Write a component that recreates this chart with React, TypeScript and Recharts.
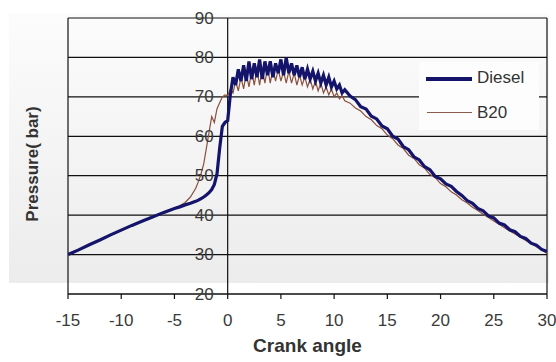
import React from 'react';
import {
  LineChart,
  Line,
  XAxis,
  YAxis,
  CartesianGrid,
  ReferenceLine,
  Legend,
} from 'recharts';

// crank angle (deg) and cylinder pressure (bar)
const angles = [
  -15, -14, -13, -12, -11, -10, -9, -8, -7, -6, -5,
  -4.5, -4, -3.5, -3,
  -2.75, -2.5, -2.25, -2, -1.75, -1.5, -1.25, -1, -0.75, -0.5, -0.25, 0,
  0.25, 0.5, 0.75, 1, 1.25, 1.5, 1.75, 2, 2.25, 2.5, 2.75, 3,
  3.25, 3.5, 3.75, 4, 4.25, 4.5, 4.75, 5, 5.25, 5.5, 5.75, 6,
  6.25, 6.5, 6.75, 7, 7.25, 7.5, 7.75, 8, 8.25, 8.5, 8.75, 9,
  9.25, 9.5, 9.75, 10, 10.25, 10.5, 10.75, 11,
  11.5, 12, 12.5, 13, 13.5, 14, 14.5, 15, 15.5, 16, 16.5, 17,
  17.5, 18, 18.5, 19, 19.5, 20, 20.5, 21, 21.5, 22, 22.5, 23,
  23.5, 24, 24.5, 25, 25.5, 26, 26.5, 27, 27.5, 28, 28.5, 29, 29.5, 30,
];

const diesel = [
  30.0, 31.2, 32.5, 33.7, 35.0, 36.2, 37.4, 38.5, 39.6, 40.7, 41.7,
  42.1, 42.6, 43.0, 43.5,
  43.8, 44.2, 44.6, 45.1, 45.7, 46.5, 47.8, 50.5, 57.0, 62.5, 63.5, 64.0,
  70.5, 75.0, 73.0, 77.0, 74.0, 78.0, 74.0, 79.0, 74.5, 78.5, 75.0, 79.5,
  74.5, 79.0, 75.5, 79.0, 75.0, 78.5, 76.0, 79.5, 75.5, 80.0, 76.0, 78.5,
  75.5, 78.0, 75.0, 77.5, 74.5, 77.0, 74.5, 76.5, 74.0, 76.0, 73.5, 75.5,
  73.0, 75.0, 72.5, 74.0, 72.0, 73.0, 71.0, 71.8,
  70.2, 69.3, 67.5, 66.9, 65.1, 64.4, 62.6, 61.9, 60.0, 59.3, 57.4, 56.6,
  54.8, 54.0, 52.3, 51.5, 49.8, 49.2, 47.9, 47.3, 46.0, 45.0, 43.7, 43.0,
  41.7, 41.1, 39.8, 39.3, 38.0, 37.5, 36.3, 35.8, 34.6, 34.1, 32.9, 32.4, 31.3, 30.8,
];

const b20 = [
  29.8, 31.1, 32.4, 33.7, 34.9, 36.1, 37.3, 38.5, 39.6, 40.7, 41.8,
  42.4, 43.2, 44.6, 46.8,
  48.5, 50.5, 53.0, 57.0, 61.0, 65.0, 63.5, 67.0, 68.5, 70.0, 70.5, 70.3,
  72.0, 71.0, 74.0, 71.5, 75.0, 72.0, 76.0, 72.5, 76.5, 73.0, 77.0, 73.0,
  77.0, 73.5, 77.5, 73.5, 77.0, 74.0, 77.0, 74.0, 76.5, 73.5, 76.5, 73.5,
  76.0, 73.0, 75.5, 73.0, 75.0, 72.5, 74.5, 72.0, 74.0, 71.5, 73.5, 71.0,
  72.5, 70.5, 72.0, 70.0, 71.0, 69.5, 70.3, 69.0,
  68.4, 67.2, 66.4, 65.0, 64.2, 62.7, 61.9, 60.3, 59.4, 57.8, 56.9, 55.2,
  54.4, 52.8, 51.9, 50.3, 49.5, 48.0, 47.2, 45.9, 45.1, 43.9, 43.1, 42.0,
  41.2, 40.2, 39.4, 38.5, 37.7, 36.8, 36.0, 35.2, 34.4, 33.6, 32.8, 32.0, 31.2, 30.3,
];

const xTicks = [-15, -10, -5, 0, 5, 10, 15, 20, 25, 30];
const yTicks = [20, 30, 40, 50, 60, 70, 80, 90];

const data = angles.map((a, i) => ({ angle: a, diesel: diesel[i], b20: b20[i] }));

const W = 556;
const H = 362;
const PLOT_LEFT = 68;
const PLOT_RIGHT = 547;
const X_MIN = -15;
const X_MAX = 30;
// pixel position of the y axis (crank angle 0)
const ZERO_X = PLOT_LEFT + ((0 - X_MIN) / (X_MAX - X_MIN)) * (PLOT_RIGHT - PLOT_LEFT);

const FONT = 'Arial, "Liberation Sans", sans-serif';

const YTick = (props: any) => {
  const { y, payload } = props;
  return (
    <text
      x={ZERO_X - 14}
      y={y}
      textAnchor="end"
      dominantBaseline="central"
      fontSize={17}
      fontFamily={FONT}
      fill="#3a3a3a"
    >
      {payload.value}
    </text>
  );
};

const YTitle = (props: any) => {
  const { viewBox } = props;
  const cx = 32;
  const cy = viewBox.y + viewBox.height / 2 + 8;
  return (
    <text
      x={cx}
      y={cy}
      transform={`rotate(-90 ${cx} ${cy})`}
      textAnchor="middle"
      dominantBaseline="central"
      fontSize={17}
      fontWeight="bold"
      fontFamily={FONT}
      fill="#333"
    >
      Pressure( bar)
    </text>
  );
};

const LegendBox = () => (
  <div
    style={{
      width: 120,
      height: 68,
      background: '#fdfdfd',
      fontFamily: FONT,
      fontSize: 17,
      color: '#333',
      position: 'relative',
    }}
  >
    <div style={{ position: 'absolute', left: 7, top: 15, width: 46, height: 4, background: '#14146a' }} />
    <div style={{ position: 'absolute', left: 58, top: 6, lineHeight: '20px' }}>Diesel</div>
    <div style={{ position: 'absolute', left: 8, top: 50, width: 45, height: 1, background: '#8a5a4a' }} />
    <div style={{ position: 'absolute', left: 58, top: 41, lineHeight: '20px' }}>B20</div>
  </div>
);

export default function App() {
  return (
    <div style={{ position: 'absolute', left: 0, top: 0, width: W, height: H, background: '#fff' }}>
      <div
        style={{
          position: 'absolute',
          left: 9,
          top: 13,
          width: 540,
          height: 270,
          background: 'linear-gradient(#fcfcfc, #ececec)',
        }}
      />
      <div style={{ position: 'absolute', left: 0, top: 0 }}>
        <LineChart
          width={W}
          height={H}
          data={data}
          margin={{ top: 18, right: W - PLOT_RIGHT, left: 8, bottom: 18 }}
        >
          <CartesianGrid vertical={false} stroke="#111" strokeWidth={1.2} />
          <XAxis
            dataKey="angle"
            type="number"
            domain={[X_MIN, X_MAX]}
            ticks={xTicks}
            allowDataOverflow
            height={50}
            axisLine={{ stroke: '#111', strokeWidth: 1.2 }}
            tickLine={{ stroke: '#111', strokeWidth: 1.2 }}
            tickSize={5}
            tickMargin={15}
            tick={{ fontSize: 17, fontFamily: FONT, fill: '#3a3a3a' }}
            label={{
              value: 'Crank angle',
              position: 'insideBottom',
              offset: -8,
              fontSize: 19,
              fontWeight: 'bold',
              fontFamily: FONT,
              fill: '#333',
            }}
          />
          <YAxis
            type="number"
            domain={[20, 90]}
            ticks={yTicks}
            width={PLOT_LEFT - 8}
            axisLine={false}
            tickLine={false}
            tick={<YTick />}
            label={<YTitle />}
          />
          <ReferenceLine x={X_MIN} stroke="#111" strokeWidth={1.2} />
          <ReferenceLine x={0} stroke="#111" strokeWidth={1.2} />
          <ReferenceLine x={X_MAX} stroke="#111" strokeWidth={1.2} />
          <Legend
            content={<LegendBox />}
            layout="horizontal"
            verticalAlign="middle"
            align="center"
            wrapperStyle={{ left: 419, top: 62, width: 120 }}
          />
          <Line
            type="linear"
            dataKey="b20"
            name="B20"
            stroke="#8a5040"
            strokeWidth={1.2}
            dot={false}
            isAnimationActive={false}
          />
          <Line
            type="linear"
            dataKey="diesel"
            name="Diesel"
            stroke="#14146a"
            strokeWidth={3.2}
            dot={false}
            isAnimationActive={false}
          />
        </LineChart>
      </div>
    </div>
  );
}
